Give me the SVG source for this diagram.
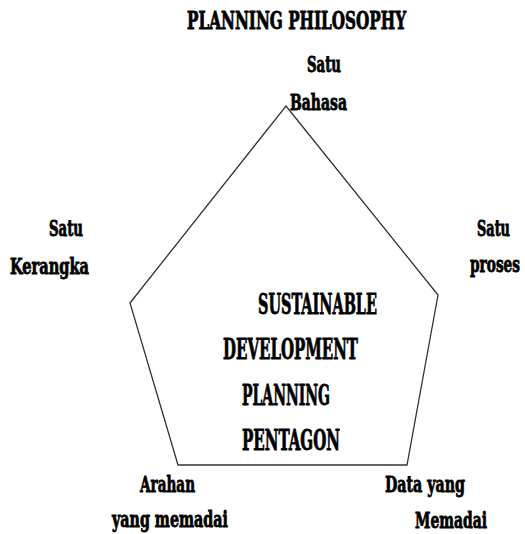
<svg xmlns="http://www.w3.org/2000/svg" width="525" height="534" viewBox="0 0 525 534">
<style>
text{font-family:"DejaVu Serif","Liberation Serif",serif;font-weight:bold;font-stretch:condensed;fill:#000;stroke:#000;stroke-width:0.8}
.t{font-size:24px}
.l{font-size:22px}
.c{font-size:27px}
.edge{fill:none;stroke:#333;stroke-width:1.3}
</style>
<rect width="525" height="534" fill="#fff"/>
<g id="connectors">
<polygon class="edge" points="286,106 438,295 407,465 178,465 130,303"/>
</g>
<g id="title"><text class="t" x="187" y="29" textLength="219" lengthAdjust="spacingAndGlyphs">PLANNING PHILOSOPHY</text></g>
<g id="node-top"><text class="l" x="307" y="72" textLength="34" lengthAdjust="spacingAndGlyphs">Satu</text><text class="l" x="290" y="110" textLength="57" lengthAdjust="spacingAndGlyphs">Bahasa</text></g>
<g id="node-left"><text class="l" x="49" y="236" textLength="34" lengthAdjust="spacingAndGlyphs">Satu</text><text class="l" x="10" y="274" textLength="79" lengthAdjust="spacingAndGlyphs">Kerangka</text></g>
<g id="node-right"><text class="l" x="477" y="236" textLength="33" lengthAdjust="spacingAndGlyphs" font-size="20">Satu</text><text class="l" x="470" y="272" textLength="50" lengthAdjust="spacingAndGlyphs" font-size="20">proses</text></g>
<g id="node-bottom-left"><text class="l" x="140" y="492" textLength="55" lengthAdjust="spacingAndGlyphs">Arahan</text><text class="l" x="112" y="527" textLength="116" lengthAdjust="spacingAndGlyphs">yang memadai</text></g>
<g id="node-bottom-right"><text class="l" x="385" y="492" textLength="80" lengthAdjust="spacingAndGlyphs">Data yang</text><text class="l" x="415" y="528" textLength="72" lengthAdjust="spacingAndGlyphs">Memadai</text></g>
<g id="center">
<text class="c" x="258" y="314" textLength="119" lengthAdjust="spacingAndGlyphs">SUSTAINABLE</text>
<text class="c" x="223" y="359" textLength="135" lengthAdjust="spacingAndGlyphs">DEVELOPMENT</text>
<text class="c" x="242" y="405" textLength="88" lengthAdjust="spacingAndGlyphs">PLANNING</text>
<text class="c" x="242" y="450" textLength="98" lengthAdjust="spacingAndGlyphs">PENTAGON</text>
</g>
</svg>
